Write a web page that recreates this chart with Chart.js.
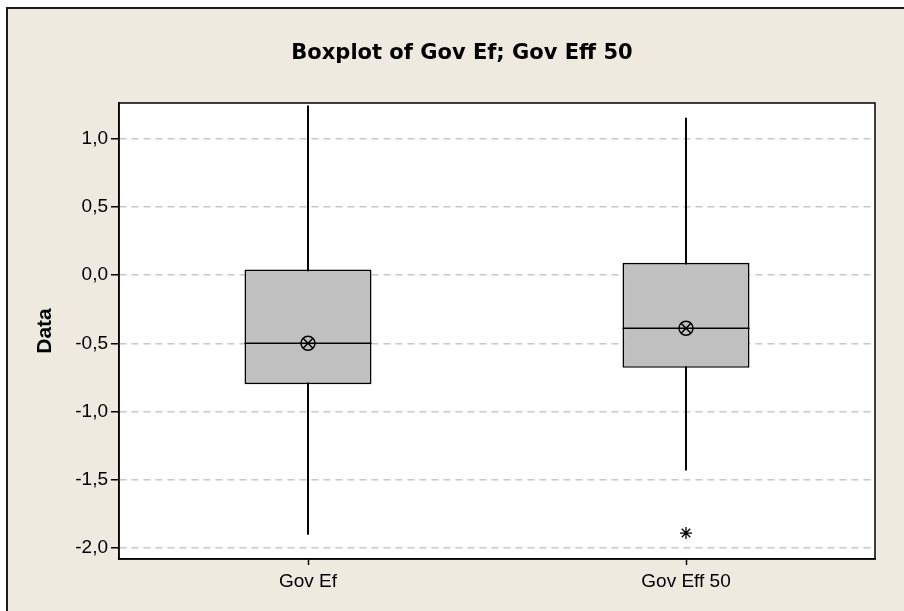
<!DOCTYPE html>
<html>
<head>
<meta charset="utf-8">
<script src="https://cdn.jsdelivr.net/npm/chart.js@4.4.1/dist/chart.umd.min.js"></script>
<style>
  html, body { margin: 0; padding: 0; background: #ffffff; }
  #wrap { position: relative; width: 904px; height: 611px; }
</style>
</head>
<body>
<div id="wrap"><canvas id="c" width="904" height="611"></canvas></div>
<script>
// ---- data ----
const categories = ['Gov Ef', 'Gov Eff 50'];
const whiskerLow  = [-1.90, -1.43];
const q1          = [-0.80, -0.68];
const median      = [-0.50, -0.39];
const q3          = [0.04, 0.09];
const whiskerHigh = [1.24, 1.15];
const means       = [-0.50, -0.39];
const outliers    = [null, -1.89];
const yTicks      = [-2.0, -1.5, -1.0, -0.5, 0.0, 0.5, 1.0];
const titleText   = 'Boxplot of Gov Ef; Gov Eff 50';
const yTitle      = 'Data';

const boxRanges = categories.map((_, i) => [q1[i], q3[i]]);
const whiskerRanges = categories.map((_, i) => [whiskerLow[i], whiskerHigh[i]]);

const frame = {
  id: 'frame',
  beforeDraw(chart) {
    const ctx = chart.ctx, ca = chart.chartArea;
    ctx.save();
    ctx.fillStyle = '#ffffff';
    ctx.fillRect(0, 0, chart.width, chart.height);
    ctx.fillStyle = '#eeeae0';
    ctx.fillRect(6, 7, chart.width, chart.height);
    ctx.strokeStyle = '#1a1a1a';
    ctx.lineWidth = 2;
    ctx.beginPath();
    ctx.moveTo(7, chart.height + 2);
    ctx.lineTo(7, 8);
    ctx.lineTo(chart.width + 2, 8);
    ctx.stroke();
    ctx.fillStyle = '#ffffff';
    ctx.fillRect(ca.left, ca.top, ca.right - ca.left, ca.bottom - ca.top);
    ctx.restore();
  },
  afterDraw(chart) {
    const ctx = chart.ctx, ca = chart.chartArea;
    ctx.save();
    ctx.strokeStyle = '#000000';
    ctx.lineWidth = 1.5;
    ctx.strokeRect(ca.left, ca.top, ca.right - ca.left, ca.bottom - ca.top);
    ctx.restore();
  }
};

const tickFont = { family: 'Liberation Sans', size: 19 };

new Chart(document.getElementById('c'), {
  type: 'bar',
  data: {
    labels: categories,
    datasets: [
      {
        type: 'line', label: 'outlier', data: outliers, showLine: false,
        pointStyle: 'star', pointRadius: 6, pointBorderWidth: 1.3,
        borderColor: '#000', backgroundColor: '#000', order: -2
      },
      {
        type: 'line', label: 'mean-x', data: means, showLine: false,
        pointStyle: 'crossRot', pointRadius: 7, pointBorderWidth: 1.5,
        borderColor: '#000', backgroundColor: 'rgba(0,0,0,0)', order: -1
      },
      {
        type: 'line', label: 'mean-o', data: means, showLine: false,
        pointStyle: 'circle', pointRadius: 7, pointBorderWidth: 1.5,
        borderColor: '#000', backgroundColor: 'rgba(0,0,0,0)', order: -1
      },
      {
        type: 'line', label: 'median', data: median, showLine: false,
        pointStyle: 'line', pointRadius: 63.5, pointBorderWidth: 1.5,
        borderColor: '#000', backgroundColor: '#000', order: 0
      },
      {
        label: 'box', data: boxRanges, grouped: false,
        backgroundColor: '#c0c0c0', borderColor: '#000', borderWidth: 1.7,
        borderSkipped: false, barPercentage: 0.336, categoryPercentage: 1, order: 1
      },
      {
        label: 'whisker', data: whiskerRanges, grouped: false,
        backgroundColor: '#000', borderWidth: 0, barThickness: 1.3, order: 2
      }
    ]
  },
  options: {
    responsive: false,
    animation: false,
    layout: { autoPadding: false, padding: { left: 20, top: 0, right: 0, bottom: 0 } },
    plugins: {
      legend: { display: false },
      tooltip: { enabled: false },
      title: {
        display: true, text: titleText, color: '#000',
        font: { family: 'DejaVu Sans', size: 21, weight: 'bold' },
        padding: { top: 41.4, bottom: 36.4 }
      }
    },
    scales: {
      x: {
        type: 'category', offset: true,
        grid: { offset: false, drawOnChartArea: false, tickLength: 6, tickColor: '#000', tickWidth: 1.5 },
        border: { display: true, color: '#000', width: 1.5 },
        ticks: { color: '#000', font: tickFont, padding: 5, maxRotation: 0 },
        afterFit(s) { s.height = 52; }
      },
      y: {
        min: -2.08, max: 1.26,
        afterBuildTicks(s) { s.ticks = yTicks.map(v => ({ value: v })); },
        grid: {
          color: '#c8c8c8', lineWidth: 1.5,
          tickLength: 8, tickColor: '#000', tickWidth: 1.5, tickBorderDash: []
        },
        border: { display: true, color: '#000', width: 1.5, dash: [7, 5] },
        ticks: {
          color: '#000', font: tickFont, padding: 3,
          callback: v => (Math.round(v * 10) / 10).toFixed(1).replace('.', ',')
        },
        title: {
          display: true, text: yTitle, color: '#000',
          font: { family: 'Liberation Sans', size: 21, weight: 'bold' },
          padding: { top: 13, bottom: 0 }
        },
        afterFit(s) { s.width = 99; }
      },
      yRight: {
        position: 'right', min: -2.08, max: 1.26,
        grid: { display: false }, border: { display: false },
        ticks: { display: false },
        afterFit(s) { s.width = 29; }
      }
    }
  },
  plugins: [frame]
});
</script>
</body>
</html>
